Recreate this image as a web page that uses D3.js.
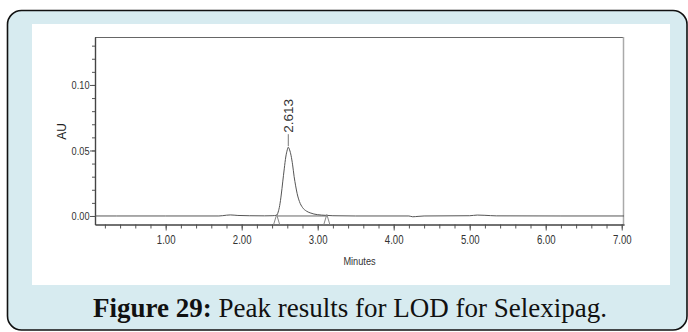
<!DOCTYPE html>
<html>
<head>
<meta charset="utf-8">
<script src="https://cdn.jsdelivr.net/npm/d3@7/dist/d3.min.js"></script>
<style>
  html, body { margin: 0; padding: 0; background: #ffffff; }
  svg { display: block; }
  .sans { font-family: "Liberation Sans", Arial, sans-serif; }
</style>
</head>
<body>
<svg id="chart" width="688" height="332"></svg>
<script>
// Chromatogram trace: retention time (min) and detector response (AU)
const times = [0.07, 0.35, 1.00, 1.70, 1.80, 1.85, 1.95, 2.10, 2.30, 2.40, 2.46, 2.48, 2.50, 2.52, 2.54, 2.56, 2.58, 2.60, 2.613,
  2.63, 2.65, 2.67, 2.69, 2.71, 2.73, 2.76, 2.80, 2.85, 2.90, 2.95, 3.00, 3.10, 3.20, 3.50, 4.20, 4.25, 4.32, 4.40,
  5.00, 5.10, 5.20, 5.35, 6.20, 7.03];
const absorbance = [0.0000, 0.0000, 0.0000, 0.0000, 0.0006, 0.0008, 0.0004, 0.0002, 0.0001, 0.0002, 0.0005, 0.0030, 0.0080, 0.0160, 0.0260, 0.0360, 0.0450, 0.0505, 0.0525,
  0.0505, 0.0460, 0.0390, 0.0300, 0.0230, 0.0170, 0.0110, 0.0065, 0.0038, 0.0024, 0.0015, 0.0010, 0.0005, 0.0002, 0.0000, 0.0000, -0.0006, -0.0003, 0.0000,
  0.0002, 0.0007, 0.0005, 0.0001, 0.0000, 0.0000];

// Integrated peak
const peakTime = 2.613;
const peakLabel = "2.613";
const peakBounds = [2.46, 3.12];

// Axis ticks
const xMajorTicks = [1, 2, 3, 4, 5, 6, 7];
const xMinorTicks = d3.range(1, 36).map(i => +(i * 0.2).toFixed(1));
const yMajorTicks = [0.00, 0.05, 0.10];
const yMinorTicks = d3.range(0, 14).map(i => +(i * 0.01).toFixed(2));

const captionBold = "Figure 29:";
const captionText = " Peak results for LOD for Selexipag.";

const svg = d3.select("#chart");

// Outer card and white plate
svg.append("rect")
  .attr("x", 7.5).attr("y", 10.5).attr("width", 679.5).attr("height", 319.5)
  .attr("rx", 14).attr("ry", 14)
  .attr("fill", "#d7ebf0").attr("stroke", "#111").attr("stroke-width", 1.6);
svg.append("rect")
  .attr("x", 32).attr("y", 24).attr("width", 638).attr("height", 261)
  .attr("fill", "#ffffff");

// Scales
const x = d3.scaleLinear().domain([0.07, 7.03]).range([95, 624]);
const y = d3.scaleLinear().domain([-0.0065, 0.1366]).range([224.5, 37]);

const axisColor = "#444";
const textColor = "#333";
const squeeze = 0.8; // condensed look for the instrument's axis lettering

// Plot frame (top and right edges)
svg.append("line")
  .attr("x1", x.range()[0]).attr("x2", x.range()[1])
  .attr("y1", y.range()[1] + 0.5).attr("y2", y.range()[1] + 0.5)
  .attr("stroke", "#666").attr("stroke-width", 1);
svg.append("line")
  .attr("x1", x.range()[1] - 0.5).attr("x2", x.range()[1] - 0.5)
  .attr("y1", y.range()[1]).attr("y2", y.range()[0])
  .attr("stroke", "#aaa").attr("stroke-width", 1.5);

// X axis: minor then major ticks
const gxMinor = svg.append("g").attr("transform", `translate(0,${y.range()[0]})`)
  .call(d3.axisBottom(x).tickValues(xMinorTicks).tickSize(4).tickSizeOuter(0).tickFormat(""));
const gx = svg.append("g").attr("transform", `translate(0,${y.range()[0]})`)
  .call(d3.axisBottom(x).tickValues(xMajorTicks).tickSize(6).tickSizeOuter(0).tickPadding(4.5)
    .tickFormat(d3.format(".2f")));

// Y axis: minor then major ticks
const gyMinor = svg.append("g").attr("transform", `translate(${x.range()[0]},0)`)
  .call(d3.axisLeft(y).tickValues(yMinorTicks).tickSize(3).tickSizeOuter(0).tickFormat(""));
const gy = svg.append("g").attr("transform", `translate(${x.range()[0]},0)`)
  .call(d3.axisLeft(y).tickValues(yMajorTicks).tickSize(5).tickSizeOuter(0).tickPadding(0.5)
    .tickFormat(d3.format(".2f")));

[gxMinor, gx, gyMinor, gy].forEach(g => {
  g.selectAll("path.domain").attr("stroke", axisColor).attr("stroke-width", 1.2);
  g.selectAll(".tick line").attr("stroke", "#555");
  g.selectAll(".tick text")
    .attr("class", "sans").attr("font-size", 11.5).attr("fill", textColor)
    .attr("x", function () { return (+d3.select(this).attr("x") || 0) / squeeze; })
    .attr("transform", `scale(${squeeze},1)`);
});
gx.selectAll(".tick text").attr("font-size", 12);

// Axis titles
svg.append("text")
  .attr("class", "sans")
  .attr("transform", `translate(359.5,265) scale(${squeeze},1)`)
  .attr("text-anchor", "middle")
  .attr("font-size", 11.5).attr("fill", textColor)
  .text("Minutes");
svg.append("text")
  .attr("class", "sans")
  .attr("transform", "translate(65.5,131.5) rotate(-90)")
  .attr("text-anchor", "middle")
  .attr("font-size", 12).attr("fill", "#222")
  .text("AU");

// Integration baseline under the peak
svg.append("line")
  .attr("x1", x(peakBounds[0])).attr("x2", x(peakBounds[1]))
  .attr("y1", y(0)).attr("y2", y(0))
  .attr("stroke", "#666").attr("stroke-width", 1);

// Trace
const line = d3.line()
  .x((d, i) => x(times[i]))
  .y(d => y(d))
  .curve(d3.curveMonotoneX);
svg.append("path")
  .datum(absorbance)
  .attr("d", line)
  .attr("fill", "none")
  .attr("stroke", "#555")
  .attr("stroke-width", 1);

// Peak start / end markers
svg.selectAll("path.mark")
  .data(peakBounds)
  .join("path")
  .attr("class", "mark")
  .attr("d", t => `M${x(t) - 3},${y.range()[0]} L${x(t)},${y(0) - 1.5} L${x(t) + 3},${y.range()[0]}`)
  .attr("fill", "none").attr("stroke", "#888").attr("stroke-width", 1);

// Retention time label with leader
const peakValue = absorbance[times.indexOf(peakTime)];
const apexY = y(peakValue);
svg.append("line")
  .attr("x1", x(peakTime)).attr("x2", x(peakTime))
  .attr("y1", apexY - 1).attr("y2", apexY - 13)
  .attr("stroke", "#777").attr("stroke-width", 1);
svg.append("text")
  .attr("class", "sans")
  .attr("transform", `translate(${x(peakTime)},${apexY - 14.5}) rotate(-90)`)
  .attr("dy", "0.36em")
  .attr("text-anchor", "start")
  .attr("font-size", 13.5).attr("fill", "#333")
  .text(peakLabel);

// Caption
const cap = svg.append("text")
  .attr("x", 350).attr("y", 317)
  .attr("text-anchor", "middle")
  .attr("font-family", "'Liberation Serif', 'DejaVu Serif', serif")
  .attr("font-size", 27).attr("fill", "#111");
cap.append("tspan").attr("font-weight", "bold").text(captionBold);
cap.append("tspan").text(captionText);
</script>
</body>
</html>
